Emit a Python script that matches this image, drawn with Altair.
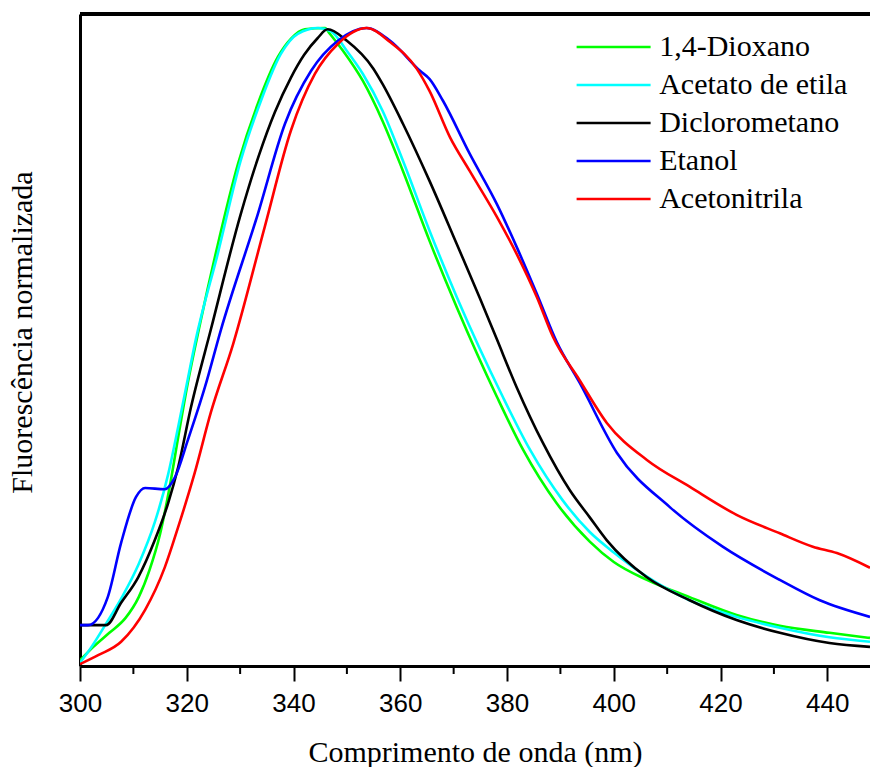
import altair as alt
import pandas as pd

# ---- data ----
series_names = ["1,4-Dioxano", "Acetato de etila", "Diclorometano", "Etanol", "Acetonitrila"]
series_colors = ["#00ff00", "#00ffff", "#000000", "#0000ff", "#ff0000"]

dioxano_x = [300, 302.5, 305.5, 308.5, 311, 313, 315, 317, 318.4, 320.2, 322.5, 325.8, 329.6, 333.3,
             337.1, 339.5, 342.1, 345.9, 346.8, 349.3, 353.0, 356.7, 360.5, 365.5, 370.6, 378.1,
             383.0, 389.3, 395.5, 400, 406.2, 414.2, 423.0, 431.1, 440.4, 448]
dioxano_y = [0.009, 0.030, 0.052, 0.075, 0.108, 0.150, 0.207, 0.290, 0.359, 0.444, 0.537, 0.660, 0.787, 0.881,
             0.955, 0.983, 0.998, 1.000, 0.991, 0.964, 0.917, 0.854, 0.776, 0.666, 0.562, 0.422,
             0.339, 0.255, 0.195, 0.163, 0.135, 0.108, 0.080, 0.063, 0.052, 0.044]

acetato_x = [300, 302, 305, 308, 311, 314, 316.5, 318.4, 320.2, 321.7, 325.8, 330.1, 333.9,
             337.6, 340.8, 344.6, 347.0, 350.0, 353.0, 356.7, 360.5, 365.5, 370.6, 379.2, 384.3,
             390.4, 395.5, 400, 406.2, 414.2, 423.0, 431.1, 440.4, 448]
acetato_y = [0.005, 0.028, 0.068, 0.110, 0.160, 0.225, 0.300, 0.375, 0.450, 0.512, 0.646, 0.792, 0.886,
             0.959, 0.991, 1.000, 0.995, 0.964, 0.928, 0.870, 0.792, 0.682, 0.578, 0.422, 0.339,
             0.260, 0.210, 0.178, 0.140, 0.103, 0.077, 0.060, 0.045, 0.038]

dcm_x = [300, 304.9, 307.7, 310.9, 314.0, 316.5, 318.4, 320.8, 324.5, 330.1, 333.5, 336.5, 339.5,
         342.0, 344.5, 346.4, 350.0, 354.9, 356.7, 360.5, 365.5, 370.6, 374.9, 378.1, 381.8, 386.7, 391.8,
         395.5, 398.7, 406.2, 414.2, 423.0, 431.1, 440.4, 448]
dcm_y = [0.064, 0.064, 0.099, 0.139, 0.197, 0.255, 0.312, 0.406, 0.527, 0.708, 0.800, 0.868, 0.922,
         0.958, 0.984, 0.998, 0.980, 0.937, 0.912, 0.850, 0.760, 0.661, 0.577, 0.512, 0.437, 0.350, 0.275,
         0.233, 0.197, 0.139, 0.103, 0.072, 0.052, 0.036, 0.030]

etanol_x = [300, 301.5, 305.2, 307.7, 310.5, 312.2, 315.9, 317.8, 320.2, 323.4, 326.4, 333.3, 338.4,
            343.3, 348.3, 353.7, 358.1, 363.7, 365.5, 368.0, 373.0, 378.1, 381.8, 385.6, 389.3, 393.6,
            400.6, 410.5, 420.4, 431.1, 438.6, 448]
etanol_y = [0.064, 0.064, 0.108, 0.193, 0.265, 0.279, 0.277, 0.296, 0.354, 0.437, 0.527, 0.708, 0.850,
            0.933, 0.980, 1.000, 0.980, 0.933, 0.920, 0.886, 0.803, 0.724, 0.657, 0.583, 0.508, 0.444,
            0.334, 0.249, 0.187, 0.135, 0.103, 0.077]

acn_x = [300, 303.4, 307.7, 312.2, 315.9, 318.4, 321.5, 324.5, 328.7, 334.6, 339.5, 344.0, 348.3,
         353.7, 358.1, 363.1, 365.5, 369.3, 373.0, 378.1, 381.8, 385.6, 388.6, 393.6, 398.7, 406.2,
         414.2, 423.0, 431.1, 437.3, 441.8, 448]
acn_y = [0.003, 0.017, 0.038, 0.088, 0.155, 0.218, 0.303, 0.397, 0.505, 0.688, 0.839, 0.928, 0.975,
         1.000, 0.978, 0.936, 0.901, 0.829, 0.776, 0.704, 0.646, 0.578, 0.516, 0.448, 0.381, 0.323,
         0.281, 0.237, 0.208, 0.187, 0.177, 0.154]

major_ticks = [300, 320, 340, 360, 380, 400, 420, 440]
minor_ticks = [310, 330, 350, 370, 390, 410, 430]

x_domain = [300, 448]
y_domain = [0, 1.022]

# ---- build long table ----
rows = []
for name, xs, ys in zip(series_names,
                        [dioxano_x, acetato_x, dcm_x, etanol_x, acn_x],
                        [dioxano_y, acetato_y, dcm_y, etanol_y, acn_y]):
    for i, (a, b) in enumerate(zip(xs, ys)):
        rows.append({"wl": a, "v": b, "serie": name, "i": i})
df = pd.DataFrame(rows)
minor_df = pd.DataFrame({"wl": minor_ticks})

W, H = 790, 652

x_scale = alt.Scale(domain=x_domain, nice=False, zero=False)
y_scale = alt.Scale(domain=y_domain, nice=False, zero=False)

lines = alt.Chart(df).mark_line(strokeWidth=2.6, interpolate="monotone", clip=True).encode(
    x=alt.X("wl:Q", scale=x_scale,
            axis=alt.Axis(values=major_ticks, title="Comprimento de onda (nm)", grid=False,
                          tickSize=15, tickWidth=2, tickColor="black",
                          domainWidth=3, domainColor="black",
                          labelFont="Liberation Sans", labelFontSize=26, labelColor="black",
                          labelPadding=9, labelFlush=False,
                          titleFont="Liberation Serif", titleFontSize=30, titleFontWeight="normal",
                          titleColor="black", titleBaseline="alphabetic", titleY=95)),
    y=alt.Y("v:Q", scale=y_scale,
            axis=alt.Axis(title="Fluorescência normalizada", grid=False, ticks=False, labels=False,
                          domainWidth=3, domainColor="black",
                          titleFont="Liberation Serif", titleFontSize=30, titleFontWeight="normal",
                          titleColor="black", titleAngle=-90, titleAlign="center",
                          titleBaseline="alphabetic", titleX=-49, titleY=318)),
    color=alt.Color("serie:N", sort=series_names,
                    scale=alt.Scale(domain=series_names, range=series_colors),
                    legend=alt.Legend(orient="none", legendX=518.6, legendY=18, title=None,
                                      symbolType="M-5,0H5", symbolSize=219, symbolStrokeWidth=2.6,
                                      labelFont="Liberation Serif", labelFontSize=30, labelColor="black",
                                      labelOffset=30.6, labelLimit=0, rowPadding=8, padding=0)),
    order="i:Q",
)

minor = alt.Chart(minor_df).mark_rule(color="black", strokeWidth=2).encode(
    x=alt.X("wl:Q", scale=x_scale),
    y=alt.value(H),
    y2=alt.value(H + 8),
)

top_border = alt.Chart(minor_df).mark_rule(color="black", strokeWidth=3.5).encode(
    x=alt.value(0), x2=alt.value(W), y=alt.value(0)
)

chart = alt.layer(lines, minor, top_border).properties(
    width=W, height=H,
    autosize=alt.AutoSizeParams(type="none"),
    padding={"left": 80, "top": 14, "right": 0, "bottom": 101},
).configure_view(stroke=None).configure(background="white")

chart.save("out.html", embed_options={"renderer": "svg", "actions": False})
